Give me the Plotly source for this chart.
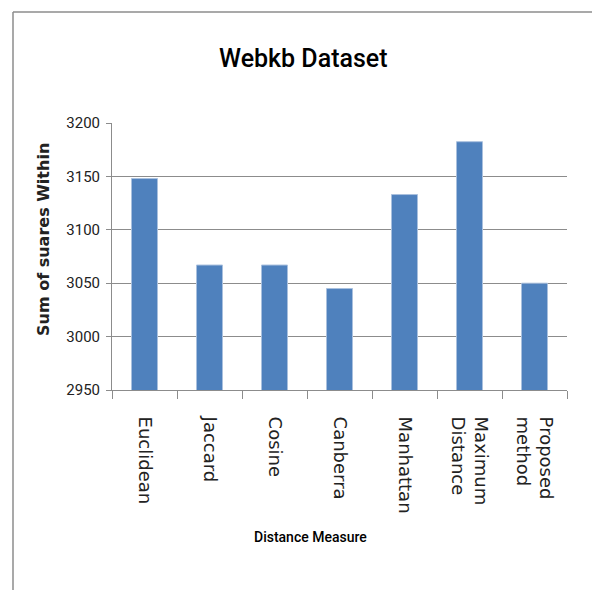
import plotly.graph_objects as go

categories = ["Euclidean", "Jaccard", "Cosine", "Canberra", "Manhattan",
              "Maximum<br>Distance", "Proposed<br>method"]
values = [3148, 3067, 3067, 3045, 3133, 3182.5, 3050]
y_ticks = [2950, 3000, 3050, 3100, 3150, 3200]

W, H = 592, 590
L, R, T, B = 112, 25, 123, 200
pw, ph = W - L - R, H - T - B

def px(x):
    return (x - L) / pw

def py(y):
    return (H - B - y) / ph

narrow = "Roboto, sans-serif"
wide = "DejaVu Sans, Verdana, sans-serif"

fig = go.Figure(go.Bar(
    x=categories, y=values,
    marker=dict(color="#4F81BD", line=dict(color="#A9C0DE", width=1)),
    width=0.4,
))

fig.update_layout(
    width=W, height=H,
    margin=dict(l=L, r=R, t=T, b=B),
    paper_bgcolor="white", plot_bgcolor="white",
    showlegend=False,
    xaxis=dict(
        type="category", tickangle=90, ticks="outside", tickson="boundaries",
        ticklen=8, tickcolor="#8c8c8c", showline=True, linecolor="#8c8c8c",
        showgrid=False, ticklabelstandoff=22,
        tickfont=dict(family=wide, size=18, color="#222"),
    ),
    yaxis=dict(
        range=[2950, 3200], tickvals=y_ticks, ticks="outside", ticklen=5,
        tickcolor="#8c8c8c", showline=True, linecolor="#8c8c8c",
        showgrid=True, gridcolor="#8c8c8c", gridwidth=1, zeroline=False,
        ticklabelstandoff=3,
        tickfont=dict(family=narrow, size=15, color="#222"),
    ),
    annotations=[
        dict(text="Webkb Dataset", x=px(303), y=py(58), xref="paper", yref="paper",
             showarrow=False, xanchor="center", yanchor="middle",
             font=dict(family=narrow, size=25, color="black", weight=500)),
        dict(text="<b>Sum of suares Within</b>", x=px(43), y=py(240), xref="paper",
             yref="paper", showarrow=False, textangle=-90, xanchor="center",
             yanchor="middle",
             font=dict(family=wide, size=16, color="#222")),
        dict(text="Distance Measure", x=px(310), y=py(537), xref="paper", yref="paper",
             showarrow=False, xanchor="center", yanchor="middle",
             font=dict(family=narrow, size=14, color="black", weight=500)),
    ],
    shapes=[
        dict(type="line", xref="paper", yref="paper", x0=px(13), x1=px(13),
             y0=py(12), y1=py(592), line=dict(color="#8c8c8c", width=1.5)),
        dict(type="line", xref="paper", yref="paper", x0=px(13), x1=px(600),
             y0=py(12), y1=py(12), line=dict(color="#8c8c8c", width=1.5)),
    ],
)

fig.write_html("out.html")
